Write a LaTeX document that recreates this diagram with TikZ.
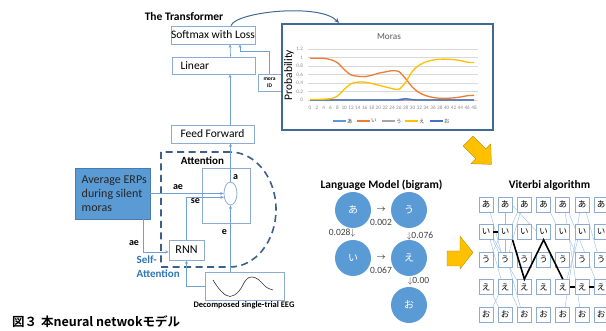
\documentclass[tikz,border=0pt]{standalone}
\usepackage{fontspec}
\setmainfont{Carlito}
\newfontfamily\jp{Noto Sans CJK JP}[BoldFont={Noto Sans CJK JP Bold}]
\usetikzlibrary{arrows.meta,shapes.geometric}

\definecolor{cBoxLine}{RGB}{140,172,212}
\definecolor{cFlow}{RGB}{110,160,215}
\definecolor{cDash}{RGB}{60,95,140}
\definecolor{cFrame}{RGB}{65,105,150}
\definecolor{cERP}{RGB}{91,155,213}
\definecolor{cSelf}{RGB}{46,117,182}
\definecolor{cGold}{RGB}{255,192,0}
\definecolor{cGrid}{RGB}{217,217,217}
\definecolor{cTick}{RGB}{140,140,140}
\definecolor{cMa}{RGB}{91,155,213}
\definecolor{cMi}{RGB}{237,125,49}
\definecolor{cMu}{RGB}{165,165,165}
\definecolor{cMe}{RGB}{255,192,0}
\definecolor{cMo}{RGB}{68,114,196}
\definecolor{cNum}{RGB}{64,64,64}

\begin{document}
\begin{tikzpicture}[x=1pt,y=-1pt,
  box/.style={draw=cBoxLine,line width=0.8pt,inner sep=0pt,font=\fontsize{11.5}{13}\selectfont},
  flow/.style={draw=cFlow,line width=0.7pt,-{Stealth[length=3.5pt,width=3pt]}},
  lab/.style={inner sep=0pt,font=\bfseries\fontsize{10}{12}\selectfont},
  head/.style={inner sep=0pt,font=\bfseries\fontsize{11.5}{13}\selectfont},
  lmc/.style={circle,fill=cERP,minimum size=36pt,inner sep=0pt,text=white,font=\jp\fontsize{10}{12}\selectfont},
  num/.style={inner sep=0pt,text=cNum,font=\fontsize{9.5}{11}\selectfont},
  vbox/.style={draw=cBoxLine,line width=0.7pt,fill=white,minimum width=14pt,minimum height=15pt,inner sep=0pt,font=\jp\fontsize{8.5}{10}\selectfont},
  vlink/.style={draw=cFlow!70,line width=0.4pt},
  vpath/.style={draw=black,line width=1.6pt},
  gold/.style={fill=cGold,draw=cGold!70!black,line width=0.3pt}]
\useasboundingbox (0,0) rectangle (606,331);

%% The Transformer
\node[head] (tTrans) at (184,17) {The Transformer};
\node[box,minimum width=84pt,minimum height=18pt] (nSoft) at (213,35) {Softmax with Loss};
\node[box,minimum width=83pt,minimum height=17pt,text width=66pt,align=left] (nLinear) at (213.5,65.5) {Linear};
\node[box,minimum width=23pt,minimum height=17pt,align=center,font=\bfseries\fontsize{5.5}{6.5}\selectfont] (nMora) at (269.5,82.5) {mora\\ID};
\node[box,minimum width=83pt,minimum height=18pt] (nFF) at (212.5,134) {Feed Forward};

\draw[flow] ([xshift=17pt]nLinear.north) -- ([xshift=17pt]nSoft.south);
\draw[flow] ([xshift=17.5pt]nFF.north) -- ([xshift=16.5pt]nLinear.south);
\draw[flow] (nMora.north) -- ++(0,-22) -| ([xshift=27pt]nSoft.south);

%% Attention
\draw[cDash,line width=1.6pt,dash pattern=on 7pt off 4.5pt]
  (230,152) -- (161,152) -- (161,267) -- (230,267)
  arc[start angle=-90,end angle=90,x radius=46pt,y radius=57.5pt];
\node[lab,font=\bfseries\fontsize{11}{13}\selectfont] (tAttn) at (202.5,161) {Attention};
\node[box,minimum width=48pt,minimum height=55pt] (nAttn) at (226,195.5) {};
\node[draw=cBoxLine,line width=0.8pt,ellipse,minimum width=13pt,minimum height=23pt,inner sep=0pt] (nEll) at (230.5,193.5) {};
\node[lab] (tA) at (235.5,177) {a};
\node[lab] (tE) at (224.5,232) {e};

\node[fill=cERP,draw=cERP!80!black,line width=0.3pt,minimum width=75pt,minimum height=51pt] (nERP) at (112.5,193.5) {};
\node[anchor=west,align=left,inner sep=0pt,text=black!85,font=\fontsize{12}{14}\selectfont] (tERP) at (81.5,194) {Average ERPs\\during silent\\moras};
\node[box,minimum width=35pt,minimum height=20pt,font=\fontsize{12}{14}\selectfont] (nRNN) at (186.5,250) {RNN};
\node[box,minimum width=79pt,minimum height=28pt] (nEEG) at (244.5,286) {};
\draw[black!80,line width=0.6pt] plot[smooth,tension=0.7] coordinates
  {(213,280) (221,291) (230,296.5) (239,291) (246,280) (252,277) (259,280) (266,287) (273,290)};
\node[inner sep=0pt,font=\bfseries\fontsize{8.5}{10}\selectfont] (tEEG) at (244,305.5) {Decomposed single-trial EEG};

\draw[flow] (nERP.east) -- (nEll.west);
\node[lab] (tAe) at (178,187) {ae};
\draw[flow] (nRNN.north) |- (nEll.210);
\node[lab] (tSe) at (195.5,201) {se};
\draw[flow] ([xshift=-7pt]nERP.south east) |- ([yshift=-2pt]nRNN.west);
\node[lab] (tAe2) at (134,243) {ae};
\draw[flow] (nEEG.west) -| (nRNN.south);
\draw[flow] (nEll.south |- nEEG.north) -- (nEll.south);
\draw[flow] (nEll.north) -- (nEll.north |- nFF.south);
\node[anchor=west,align=left,inner sep=0pt,text=cSelf,font=\bfseries\fontsize{11}{14.5}\selectfont] (tSelf) at (136.5,266.5) {Self-\\Attention};

%% chart
\node[draw=cFrame,line width=2pt,fill=white,minimum width=211pt,minimum height=106pt] (nChart) at (387.5,77) {};
\draw[flow,draw=cFrame,line width=1pt,-{Stealth[length=5pt,width=4.5pt]}]
  ([xshift=18pt]nSoft.north) .. controls +(5,-14) and +(-19,-20) .. ([xshift=-48.5pt]nChart.north);
\node[inner sep=0pt,text=black!65,font=\fontsize{9.2}{11}\selectfont] (tMoras) at (389,37) {Moras};
\node[inner sep=0pt,rotate=90,font=\fontsize{11.5}{13}\selectfont] (tProb) at (289,75) {Probability};
\begin{scope}[shift={(310pt,-100pt)},x=3.4167pt,y=42.5pt]
\foreach \p/\i in {0/0,0.2/1,0.4/2,0.6/3,0.8/4,1/5,1.2/6}
{
    \draw[cGrid,line width=0.4pt] (-0.7,\p) -- (49.1,\p);
    \node[anchor=east,inner sep=0pt,text=cTick,font=\fontsize{5.2}{6}\selectfont] (yt\i) at (-2,\p) {\p};
};
\foreach \t in {0,2,...,48}
    \node[inner sep=0pt,text=cTick,font=\fontsize{5.2}{6}\selectfont] (xt\t) at (\t,-0.19) {\t};
\draw[cMa,line width=1.3pt] (0,0) -- (48,0);
\draw[cMu,line width=1.3pt] (0,0) -- (48,0);
\draw[cMo,line width=1.3pt] plot[smooth] coordinates {(0,0) (24,0) (26,0.01) (28,0.03) (30,0.01) (32,0) (48,0)};
\draw[cMi,line width=1.3pt] plot[smooth] coordinates
  {(0,0.98) (2,0.98) (4,0.98) (6,0.95) (8,0.88) (10,0.72) (12,0.59) (14,0.56) (16,0.55) (18,0.58) (20,0.63) (22,0.66) (24,0.69) (26,0.67) (28,0.5) (30,0.3) (32,0.17) (34,0.1) (36,0.06) (38,0.04) (40,0.04) (42,0.05) (44,0.07) (46,0.1) (48,0.11)};
\draw[cMe,line width=1.3pt] plot[smooth] coordinates
  {(0,0.01) (2,0.01) (4,0.02) (6,0.03) (8,0.09) (10,0.25) (12,0.38) (14,0.42) (16,0.42) (18,0.39) (20,0.35) (22,0.31) (24,0.27) (26,0.25) (28,0.42) (30,0.68) (32,0.82) (34,0.9) (36,0.94) (38,0.96) (40,0.96) (42,0.95) (44,0.93) (46,0.89) (48,0.88)};
\end{scope}
\foreach \c/\x/\k/\i in {cMa/333/あ/1, cMi/357/い/2, cMu/382/う/3, cMe/405/え/4, cMo/430/お/5}
{
    \draw[\c,line width=1.3pt] (\x,121) -- ++(13,0);
    \node[anchor=west,inner sep=0pt,text=black!70,font=\jp\fontsize{5.5}{6}\selectfont] (lg\i) at (\x+14,121) {\k};
};

%% gold arrows
\begin{scope}[shift={(478pt,-151pt)},rotate=-45]
\draw[gold] (-14,-7) -- (4,-7) -- (4,-14) -- (19,0) -- (4,14) -- (4,7) -- (-14,7) -- cycle;
\end{scope}
\draw[gold] (447,251) -- (460,251) -- (460,236) -- (473,252.5) -- (460,269) -- (460,266) -- (447,266) -- cycle;

%% language model
\node[head] (tLM) at (381.5,185) {Language Model (bigram)};
\foreach \n/\x/\y/\k in {nA/353/210/あ, nU/409/210/う, nI/353/258/い, nE/409/258/え, nO/409/305/お}
    \node[lmc] (\n) at (\x,\y) {\k};
\node[num,text=black] (tAU) at (381,210) {$\rightarrow$};
\node[num] (pAU) at (381,222.5) {0.002};
\node[num,text=black] (tIE) at (381,258) {$\rightarrow$};
\node[num] (pIE) at (381,270.5) {0.067};
\node[num] (pAI) at (342,233) {0.028$\downarrow$};
\node[num] (pUE) at (420,236) {$\downarrow$0.076};
\node[num] (pEO) at (418.5,281) {$\downarrow$0.00};

%% Viterbi
\node[head] (tVit) at (549.5,185) {Viterbi algorithm};
\foreach \r/\k in {1/あ,2/い,3/う,4/え,5/お}
  \foreach \c in {0,...,6}
    \coordinate (v\r\c) at ({486+19.2*\c},{204.5+27.5*(\r-1)});
% links first, boxes over them
\foreach \u/\v in {v10/v31,v11/v31,v12/v31,v12/v21,v11/v23,v20/v31,v20/v41,v20/v42,
    v21/v30,v31/v52,v41/v50,v41/v52,v40/v51,v13/v24,v14/v55,v14/v46,v15/v54,v15/v36,v25/v44,v24/v35}
    \draw[vlink] ([yshift=7pt]\u) -- ([yshift=-7pt]\v);
\foreach \r/\k in {1/あ,2/い,3/う,4/え,5/お}
  \foreach \c in {0,...,6}
    \node[vbox] (v\r\c) at (v\r\c) {\k};
\draw[vpath] (v20.east) -- (v21.west);
\draw[vpath] (v21.south east) -- (v42.north) -- (v23.south) -- (v44.north);
\draw[vpath] (v44.east) -- (v45.west);
\draw[vpath] (v45.east) -- (v46.west);

%% caption
\node[anchor=west,inner sep=0pt,font=\jp\bfseries\fontsize{12.5}{14}\selectfont] (tCap) at (12,322) {図３\hspace{4pt}本neural netwokモデル};
\end{tikzpicture}
\end{document}
